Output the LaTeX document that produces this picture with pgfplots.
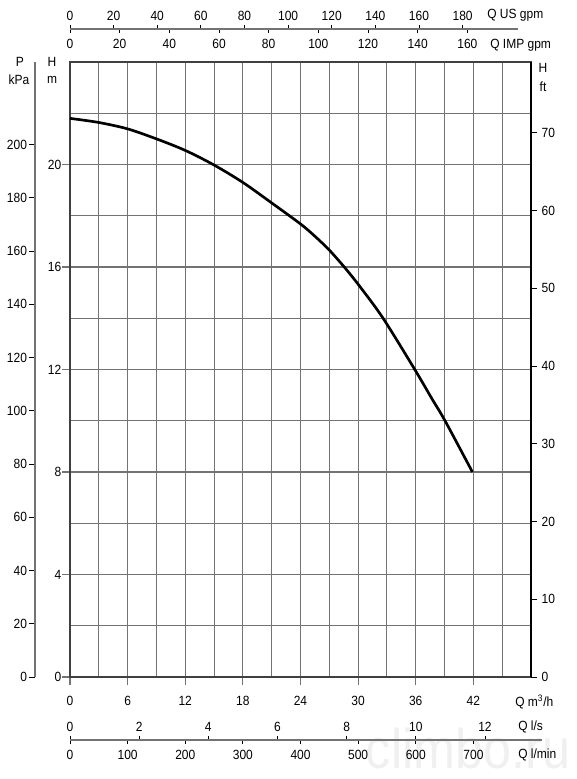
\documentclass[border=0pt]{standalone}
\usepackage{fontspec}
\setmainfont{Liberation Sans}[FakeStretch=0.9]
\usepackage{pgfplots}
\pgfplotsset{compat=1.18}
\definecolor{gridgray}{gray}{0.45}
\pgfplotsset{
  base/.style={scale only axis, anchor=south west,
    /pgf/number format/assume math mode=true,
    tick label style={font=\fontsize{10}{12}\selectfont},
    tick align=outside, major tick length=4.5pt,
    tick style={line width=0.6pt, black},
  },
}
\begin{document}
\begin{tikzpicture}
\useasboundingbox (0,0) rectangle (432pt,-584.25pt);
% watermark
\node[text=black!6, font=\fontsize{42}{44}\selectfont, anchor=south east, inner sep=0pt] at (428pt,-577pt) {climbo.ru};

% main axis
\begin{axis}[base, at={(52.5pt,-507.75pt)}, width=345.75pt, height=461.25pt,
  xmin=0, xmax=48, ymin=0, ymax=24,
  xtick={0,6,...,42}, ytick={0,4,...,20},
  minor xtick={3,9,...,45}, minor ytick={2,6,...,22},
  minor tick length=0pt, major tick length=6pt,
  xtick pos=left, ytick pos=left,
  xticklabel style={yshift=-5pt},
  yticklabel style={xshift=3pt},
  grid=both,
  major grid style={gridgray, line width=0.8pt},
  minor grid style={gridgray, line width=0.8pt},
  axis line style={black!75, line width=0.8pt},
  tick style={gridgray, line width=0.8pt},
]
\addplot[black, line width=2pt, smooth, tension=0.5] coordinates {
(0,21.80) (3,21.64) (6,21.39) (9,21.00) (12,20.55) (15,19.98) (18,19.30)
(21,18.50) (24,17.68) (25.5,17.2) (27,16.66) (28.6,15.98) (30.2,15.23)
(32.6,14.0) (35.9,12.0) (37.7,10.85) (39.05,10.0) (41.9,8.0)};
\end{axis}

% ft axis (right)
\begin{axis}[base, at={(52.5pt,-507.75pt)}, width=345.75pt, height=461.25pt,
  xmin=0, xmax=48, ymin=0, ymax=79.1,
  axis x line=none, axis y line*=right, xtick=\empty,
  ytick={0,10,...,70},
  axis line style={black, line width=0.8pt},
]
\end{axis}

% kPa axis (left)
\begin{axis}[base, at={(26.25pt,-507.75pt)}, width=1pt, height=461.25pt,
  xmin=0, xmax=1, ymin=0, ymax=231,
  axis x line=none, axis y line*=left, xtick=\empty,
  ytick={0,20,...,200},
  yticklabel style={xshift=2pt},
  axis line style={gridgray, line width=0.9pt},
]
\end{axis}

% top: US gpm
\begin{axis}[base, at={(52.5pt,-21.75pt)}, width=336pt, height=0.1pt,
  xmin=0, xmax=205.4, ymin=0, ymax=1,
  axis y line=none, axis x line*=top, ytick=\empty,
  xtick={0,20,...,180}, major tick length=3pt,
  axis line style={gridgray, line width=0.8pt},
]
\end{axis}
% top: IMP gpm
\begin{axis}[base, at={(52.5pt,-21.75pt)}, width=336pt, height=0.1pt,
  xmin=0, xmax=180.4, ymin=0, ymax=1,
  axis y line=none, axis x line*=bottom, ytick=\empty,
  xtick={0,20,...,160}, major tick length=3pt,
  xticklabel style={yshift=-1pt},
  axis line style={gridgray, line width=0.8pt},
]
\end{axis}

% bottom: l/s
\begin{axis}[base, at={(52.5pt,-555pt)}, width=354pt, height=0.1pt,
  xmin=0, xmax=13.65, ymin=0, ymax=1,
  axis y line=none, axis x line*=top, ytick=\empty,
  xtick={0,2,...,12}, major tick length=3pt,
  axis line style={gridgray, line width=0.8pt},
]
\end{axis}
% bottom: l/min
\begin{axis}[base, at={(52.5pt,-555pt)}, width=354pt, height=0.1pt,
  xmin=0, xmax=819, ymin=0, ymax=1,
  axis y line=none, axis x line*=bottom, ytick=\empty,
  xtick={0,100,...,700}, major tick length=3pt,
  xticklabel style={yshift=-1pt},
  axis line style={gridgray, line width=0.8pt},
]
\end{axis}

\begin{scope}[every node/.style={inner sep=0pt, font=\fontsize{10}{12}\selectfont}]
\node[anchor=west] at (365.25pt,-11.25pt) {Q US gpm};
\node[anchor=west] at (367.5pt,-33.75pt) {Q IMP gpm};
\node[anchor=west] at (386.25pt,-526.5pt) {Q m\textsuperscript{3}/h};
\node[anchor=west] at (388.5pt,-545.25pt) {Q l/s};
\node[anchor=west] at (388.5pt,-566.25pt) {Q l/min};
\node at (15pt,-46.5pt) {P};
\node at (14.25pt,-60pt) {kPa};
\node at (39pt,-46.5pt) {H};
\node at (39pt,-60pt) {m};
\node at (407.25pt,-51pt) {H};
\node at (407.25pt,-65.25pt) {ft};
\end{scope}
\end{tikzpicture}
\end{document}
